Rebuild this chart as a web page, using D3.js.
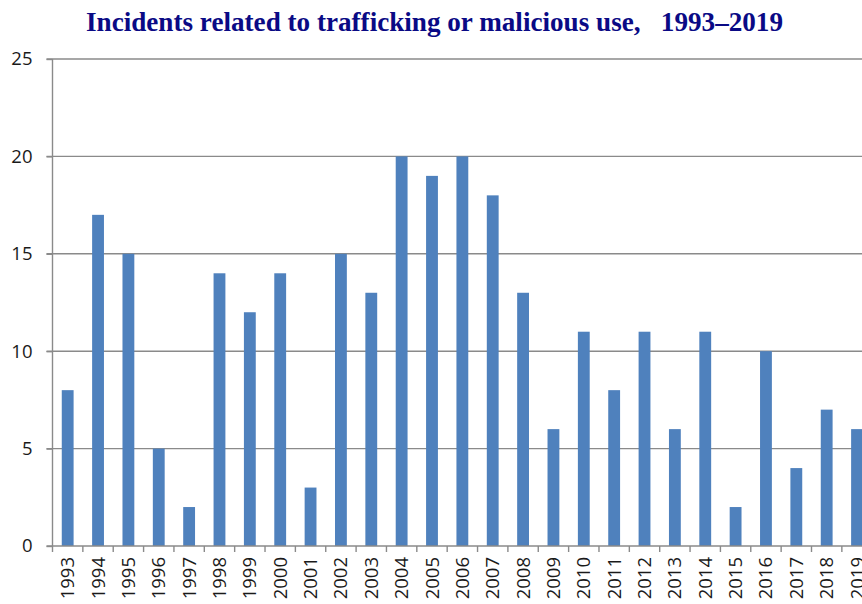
<!DOCTYPE html>
<html>
<head>
<meta charset="utf-8">
<script src="https://cdn.jsdelivr.net/npm/d3@7"></script>
<style>
  body { margin: 0; background: #fff; }
  svg { display: block; }
</style>
</head>
<body>
<div id="chart"></div>
<script>
// data
var years = ["1993","1994","1995","1996","1997","1998","1999","2000","2001","2002","2003","2004","2005","2006",
             "2007","2008","2009","2010","2011","2012","2013","2014","2015","2016","2017","2018","2019"];
var incidents = [8,17,15,5,2,14,12,14,3,15,13,20,19,20,18,13,6,11,8,11,6,11,2,10,4,7,6];
var yTicks = [0,5,10,15,20,25];

// set-up
var W = 862, H = 604;
var plotLeft = 52.5, plotTop = 59, plotBottom = 546;
var bandW = 30.36;

var svg = d3.select("#chart").append("svg")
  .attr("width", W)
  .attr("height", H);

var x = d3.scaleBand()
  .domain(years)
  .range([plotLeft, plotLeft + bandW * years.length])
  .paddingInner(0.61)
  .paddingOuter(0.305);

var y = d3.scaleLinear()
  .domain([0, 25])
  .range([plotBottom, plotTop]);

// title
svg.append("text")
  .attr("x", 434.5)
  .attr("y", 31)
  .attr("text-anchor", "middle")
  .attr("textLength", 697)
  .attr("lengthAdjust", "spacingAndGlyphs")
  .style("font-family", "'Liberation Serif', 'Times New Roman', serif")
  .style("font-weight", "bold")
  .style("font-size", "27px")
  .style("fill", "#0a0a85")
  .text("Incidents related to trafficking or malicious use,\u00a0\u00a0\u00a01993\u20132019");

// gridlines
svg.append("g")
  .selectAll("line")
  .data(yTicks.filter(function(d) { return d > 0; }))
  .enter().append("line")
  .attr("x1", plotLeft - 6)
  .attr("x2", W)
  .attr("y1", function(d) { return y(d); })
  .attr("y2", function(d) { return y(d); })
  .style("stroke", "#8a8a8a")
  .style("stroke-width", 1.4);

// bars
svg.append("g")
  .selectAll("rect")
  .data(incidents)
  .enter().append("rect")
  .attr("x", function(d, i) { return x(years[i]); })
  .attr("width", x.bandwidth())
  .attr("y", function(d) { return y(d); })
  .attr("height", function(d) { return y(0) - y(d); })
  .style("fill", "#4f81bd");

// y axis
var yAxis = svg.append("g")
  .attr("class", "yaxis")
  .attr("transform", "translate(" + plotLeft + ",0)")
  .call(d3.axisLeft(y).tickValues(yTicks).tickSize(6).tickPadding(14));
yAxis.select(".domain").attr("d", "M0," + plotTop + "V" + plotBottom);

// x axis - category ticks sit between bars
var xAxis = svg.append("g")
  .attr("class", "xaxis")
  .attr("transform", "translate(0," + plotBottom + ")");
xAxis.append("line")
  .attr("class", "xdomain")
  .attr("x1", plotLeft - 6).attr("x2", W);
xAxis.selectAll("line.tk")
  .data(d3.range(years.length + 1))
  .enter().append("line")
  .attr("class", "tk")
  .attr("x1", function(i) { return plotLeft + i * bandW; })
  .attr("x2", function(i) { return plotLeft + i * bandW; })
  .attr("y1", 0).attr("y2", 6);
xAxis.selectAll("text")
  .data(years)
  .enter().append("text")
  .attr("transform", function(d) {
    return "translate(" + (x(d) + x.bandwidth() / 2 + 6.5) + ",11) rotate(-90)";
  })
  .attr("text-anchor", "end")
  .text(function(d) { return d; });

svg.selectAll(".domain, .tick line, .xdomain, line.tk")
  .style("stroke", "#8a8a8a")
  .style("stroke-width", 1.4);
svg.selectAll(".yaxis text, .xaxis text")
  .style("font-family", "'Open Sans', 'Noto Sans', sans-serif")
  .style("font-size", "18.5px")
  .style("fill", "#1a1a1a");
</script>
</body>
</html>
